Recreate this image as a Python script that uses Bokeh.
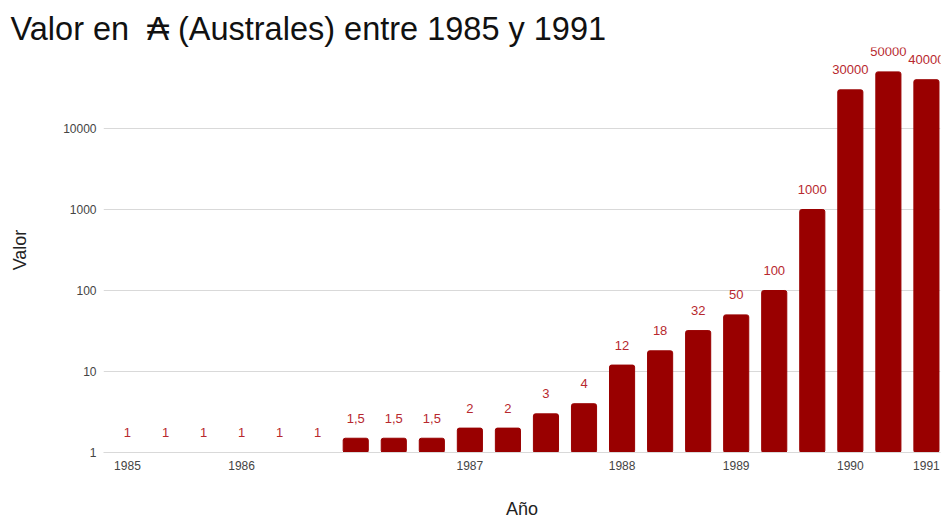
from bokeh.plotting import figure
from bokeh.models import ColumnDataSource, FixedTicker, Range1d, PrintfTickFormatter
from bokeh.core.properties import value
from bokeh.embed import file_html
from bokeh.resources import INLINE

# Data
valores = [1, 1, 1, 1, 1, 1, 1.5, 1.5, 1.5, 2, 2, 3, 4, 12, 18, 32, 50, 100,
           1000, 30000, 50000, 40000]
anios_idx = [0, 3, 9, 13, 16, 19, 21]
anios_lbl = ["1985", "1986", "1987", "1988", "1989", "1990", "1991"]
y_ticks = [1, 10, 100, 1000, 10000]

etiquetas = [("%g" % v).replace(".", ",") for v in valores]
xs = list(range(len(valores)))
src = ColumnDataSource(dict(x=xs, top=valores, bottom=[1] * len(valores), lbl=etiquetas))

FONT = "Liberation Sans"

p = figure(width=942, height=521, y_axis_type="log",
           x_range=Range1d(-0.63, 21.37), y_range=Range1d(1, 1e5),
           output_backend="svg", toolbar_location=None,
           min_border_left=103, min_border_right=2, min_border_top=47,
           min_border_bottom=69)
p.outline_line_color = None

p.title.text = "Valor en \u00a0\u20b3 (Australes) entre 1985 y 1991"
p.title.text_font = FONT
p.title.text_font_size = "32.5px"
p.title.text_font_style = "normal"
p.title.text_color = "#111111"
p.title.align = "left"
p.title.offset = -93
p.title.standoff = 2

p.vbar(x="x", width=0.66, top="top", bottom="bottom", source=src,
       fill_color="#990000", line_color="#990000", border_radius=2)
p.text(x="x", y="top", text="lbl", source=src, text_align="center",
       text_baseline="middle", y_offset=-20, text_font=value(FONT),
       text_font_size="13px", text_color="#b7282e")

# axes
p.xaxis.ticker = FixedTicker(ticks=anios_idx)
p.xaxis.major_label_overrides = dict(zip(anios_idx, anios_lbl))
p.xaxis.axis_label = "Año"
p.yaxis.ticker = FixedTicker(ticks=y_ticks)
p.yaxis.formatter = PrintfTickFormatter(format="%d")
p.yaxis.axis_label = "Valor"
p.ygrid.ticker = FixedTicker(ticks=y_ticks)
p.xgrid.visible = False
p.ygrid.grid_line_color = "#d9d9d9"

for ax in (p.xaxis[0], p.yaxis[0]):
    ax.major_tick_line_color = None
    ax.minor_tick_line_color = None
    ax.major_tick_out = 0
    ax.major_tick_in = 0
    ax.minor_tick_out = 0
    ax.minor_tick_in = 0
    ax.major_label_text_font = FONT
    ax.major_label_text_font_size = "12px"
    ax.major_label_text_color = "#444444"
    ax.axis_label_text_font = FONT
    ax.axis_label_text_font_size = "18px"
    ax.axis_label_text_font_style = "normal"
    ax.axis_label_text_color = "#222222"
p.xaxis.axis_line_color = "#d9d9d9"
p.yaxis.axis_line_color = None
p.xaxis.major_label_standoff = 8
p.xaxis.axis_label_standoff = 26
p.yaxis.major_label_standoff = 7
p.yaxis.axis_label_standoff = 30

open("out.html", "w").write(file_html(p, INLINE))
